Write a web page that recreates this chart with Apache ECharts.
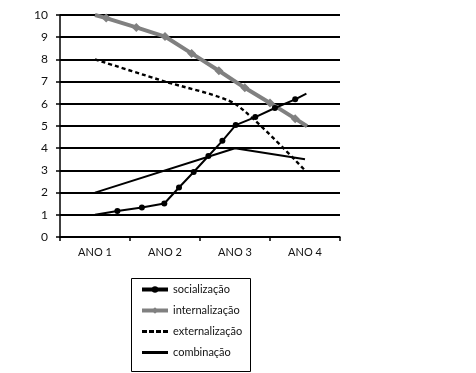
<!DOCTYPE html>
<html>
<head>
<meta charset="utf-8">
<script src="https://cdn.jsdelivr.net/npm/echarts@6/dist/echarts.min.js"></script>
<style>
html,body{margin:0;padding:0;background:#fff;}
#chart{width:476px;height:373px;}
</style>
</head>
<body>
<div id="chart"></div>
<script>
// Categories and tick labels
var categories = ['ANO 1', 'ANO 2', 'ANO 3', 'ANO 4'];
var yTicks = [0, 1, 2, 3, 4, 5, 6, 7, 8, 9, 10];

// Series (x position on a 1..4 scale, value)
var socializacaoX = [1.0, 1.32, 1.67, 1.99, 2.2, 2.41, 2.62, 2.82, 3.01, 3.29, 3.57, 3.86, 4.02];
var socializacaoY = [1.0, 1.17, 1.33, 1.51, 2.23, 2.93, 3.65, 4.33, 5.04, 5.4, 5.81, 6.2, 6.46];

var internalizacaoX = [1.0, 1.16, 1.59, 2.0, 2.38, 2.77, 3.14, 3.5, 3.86, 4.03];
var internalizacaoY = [10.0, 9.86, 9.44, 9.03, 8.27, 7.49, 6.72, 6.04, 5.33, 4.99];

var externalizacaoX = [1, 2, 3, 4];
var externalizacaoY = [8, 7, 6, 3];

var combinacaoX = [1, 3, 4];
var combinacaoY = [2, 4, 3.5];

var names = ['socialização', 'internalização', 'externalização', 'combinação'];

function pts(xs, ys, hideEnds) {
  return xs.map(function (x, i) {
    var item = { value: [x, ys[i]] };
    if (hideEnds && (i === 0 || i === xs.length - 1)) item.symbol = 'none';
    return item;
  });
}

var FONT = 'Lato';
var chart = echarts.init(document.getElementById('chart'), null, { renderer: 'canvas' });
chart.setOption({
  animation: false,
  backgroundColor: '#fff',
  textStyle: { fontFamily: FONT },
  grid: { left: 60, right: 136, top: 15, bottom: 136, containLabel: false },
  graphic: [
    {
      type: 'rect',
      left: 129, top: 276,
      shape: { width: 119, height: 93 },
      style: { fill: 'none', stroke: '#000', lineWidth: 1 },
      z: 1
    }
  ],
  legend: {
    orient: 'vertical',
    left: 140,
    top: 284,
    padding: 0,
    itemWidth: 26,
    itemHeight: 8,
    itemGap: 10,
    textStyle: { fontFamily: FONT, fontSize: 11, color: '#111' },
    data: [
      { name: names[0], lineStyle: { width: 4 } },
      { name: names[1], lineStyle: { width: 4 } },
      { name: names[2], lineStyle: { width: 3, type: [5, 2] }, itemStyle: { opacity: 0 } },
      { name: names[3], lineStyle: { width: 3 }, itemStyle: { opacity: 0 } }
    ]
  },
  xAxis: [
    {
      type: 'category',
      data: categories,
      boundaryGap: true,
      axisLine: { lineStyle: { color: '#000', width: 1.5 } },
      axisTick: { show: true, length: 4, lineStyle: { color: '#000', width: 1.5 } },
      axisLabel: { color: '#111', fontSize: 11, fontFamily: FONT, margin: 10 },
      splitLine: { show: false }
    },
    {
      type: 'value',
      min: 0.5,
      max: 4.5,
      show: false
    }
  ],
  yAxis: {
    type: 'value',
    min: yTicks[0],
    max: yTicks[yTicks.length - 1],
    interval: 1,
    axisLine: { show: true, lineStyle: { color: '#000', width: 1.5 } },
    axisTick: { show: true, length: 4, lineStyle: { color: '#000', width: 1.5 } },
    axisLabel: { color: '#111', fontSize: 12, fontFamily: FONT, margin: 12 },
    splitLine: { show: true, lineStyle: { color: '#000', width: 1.8 } }
  },
  series: [
    {
      name: names[1], type: 'line', xAxisIndex: 1,
      data: pts(internalizacaoX, internalizacaoY, true),
      symbol: 'diamond', symbolSize: 9,
      lineStyle: { color: '#808080', width: 4 },
      itemStyle: { color: '#808080' },
      z: 2
    },
    {
      name: names[2], type: 'line', xAxisIndex: 1,
      data: pts(externalizacaoX, externalizacaoY, false),
      symbol: 'none', smooth: 0.22,
      lineStyle: { color: '#000', width: 2.4, type: [4, 3] },
      itemStyle: { color: '#000' },
      z: 3
    },
    {
      name: names[3], type: 'line', xAxisIndex: 1,
      data: pts(combinacaoX, combinacaoY, false),
      symbol: 'none',
      lineStyle: { color: '#000', width: 2 },
      itemStyle: { color: '#000' },
      z: 3
    },
    {
      name: names[0], type: 'line', xAxisIndex: 1,
      data: pts(socializacaoX, socializacaoY, true),
      symbol: 'circle', symbolSize: 6,
      lineStyle: { color: '#000', width: 2 },
      itemStyle: { color: '#000' },
      z: 4
    }
  ]
});
</script>
</body>
</html>
